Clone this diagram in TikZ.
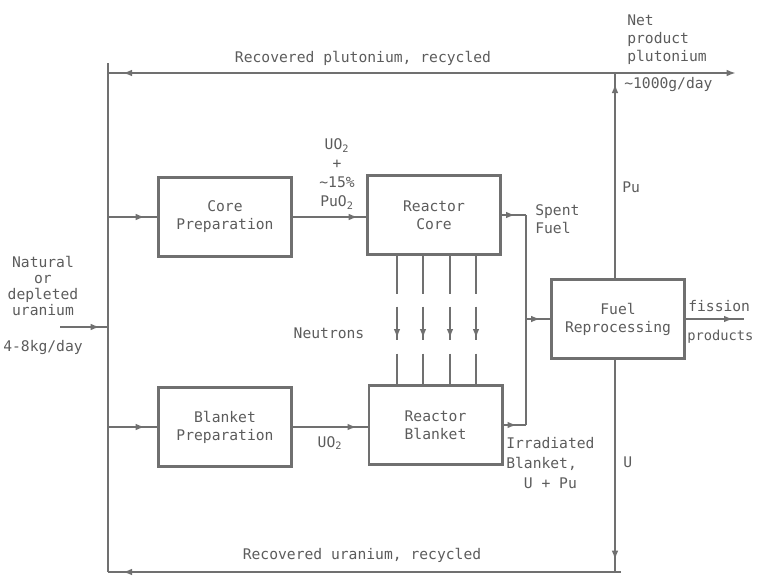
\documentclass[tikz,border=0pt]{standalone}
\usepackage{fontspec}
\setmonofont{DejaVu Sans Mono}
\usepackage{tikz}
\usetikzlibrary{arrows.meta, positioning, calc, decorations.markings}
\definecolor{scangray} {RGB}{112, 112, 112}
\definecolor{scanink}  {RGB}{ 92,  92,  92}
\tikzset{
	procbox/.style={draw=scangray, line width=2pt, minimum width=100pt, minimum height=59pt,
		align=center, text=scanink, inner sep=2pt},
	lbl/.style={text=scanink, inner sep=0pt},
	flowline/.style={draw=scangray, line width=2pt},
	endtip/.style={-{Latex[length=7pt,width=5pt]}},
	tipat/.style={postaction={decorate}, decoration={markings,
		mark=at position #1 with {\arrow{Latex[length=7pt,width=5pt]}}}}
}

\begin{document}
\begin{tikzpicture}[x=0.75pt, y=-0.75pt, font=\ttfamily\fontsize{11}{13.5}\selectfont]
	\useasboundingbox (0,0) rectangle (757,575);
	\node[procbox] (coreprep) at (225,217) {Core\\Preparation};
	\node[procbox] (core) at (434,215) {Reactor\\Core};
	\node[procbox] (blanketprep) at (225,427) {Blanket\\Preparation};
	\node[procbox] (blanket) at (435.5,425) {Reactor\\Blanket};
	\node[procbox] (reproc) at (618,319) {Fuel\\Reprocessing};
	\coordinate (lefttop) at (108,63);
	\coordinate (leftbot) at (108,572);
	\coordinate (pusplit) at (615,73);
	\coordinate (netout) at (736,73);
	\coordinate (ubot) at (615,572);
	\coordinate (botend) at (621,572);
	\coordinate (feed) at (60,327);
	\coordinate (spent) at (526,215);
	\coordinate (spentbot) at (526,425);
	\coordinate (fissout) at (744,320);
	\draw[flowline] (leftbot) -- (lefttop);
	\draw[flowline, tipat=-11pt] (pusplit) -- (pusplit -| lefttop);
	\draw[flowline, endtip] (pusplit) -- (netout);
	\draw[flowline, tipat=-8pt] (reproc.north -| pusplit) -- (pusplit);
	\draw[flowline, tipat=-9pt] (reproc.south -| ubot) -- (ubot);
	\draw[flowline, tipat=-11pt] (botend) -- (leftbot);
	\draw[flowline, tipat=-6pt] (feed) -- (feed -| leftbot);
	\draw[flowline, tipat=-9pt] (coreprep.west -| leftbot) -- (coreprep.west);
	\draw[flowline, tipat=-9pt] (blanketprep.west -| leftbot) -- (blanketprep.west);
	\draw[flowline, tipat=-6pt] (coreprep) -- (core.west |- coreprep);
	\draw[flowline, tipat=-8pt] (blanketprep) -- (blanket.west |- blanketprep);
	\draw[flowline, tipat=10pt] (core.east) -- (spent);
	\draw[flowline] (spent) -- (spentbot);
	\draw[flowline, tipat=10pt] (blanket.east) -- (spentbot);
	\draw[flowline, tipat=0.6] (spent |- reproc.west) -- (reproc.west);
	\draw[flowline, tipat=-8pt] (reproc.east) -- (reproc.east -| fissout);
	\foreach \dx in {-37,-11,16,42}{
		\draw[flowline, dash pattern=on 28.5pt off 9.75pt on 24.75pt off 10.5pt on 24.75pt, tipat=62pt]
			($(core.south)+(\dx,0)$) -- ($(core.south |- blanket.north)+(\dx,0)$);
	}
	\node[lbl] (purec) at (363,58) {Recovered plutonium, recycled};
	\node[lbl] (urec) at (362,555) {Recovered uranium, recycled};
	\node[lbl, anchor=west, align=left] (netlbl) at (627,40) {Net\\product\\plutonium};
	\node[lbl, anchor=west] (rate) at (624,85) {\textasciitilde1000g/day};
	\node[lbl, anchor=west] (pulbl) at (622,187) {Pu};
	\node[lbl, anchor=west] (ulbl) at (623,462) {U};
	\node[lbl, align=center, font=\ttfamily\fontsize{11}{14.25}\selectfont] (mix) at (337,174)
		{UO\textsubscript{2}\\+\\\textasciitilde15\%\\PuO\textsubscript{2}};
	\node[lbl, anchor=west, align=left] (spentlbl) at (535,219) {Spent\\Fuel};
	\node[lbl] (neutlbl) at (329,333) {Neutrons};
	\node[lbl, anchor=west, align=left, font=\ttfamily\fontsize{11}{15}\selectfont] (irrlbl) at (506,463)
		{Irradiated\\Blanket,\\\hphantom{Ir}U + Pu};
	\node[lbl, anchor=west] (fislbl) at (688,306) {fission};
	\node[lbl, anchor=west, font=\ttfamily\fontsize{10.3}{12}\selectfont] (prodlbl) at (687,337) {products};
	\node[lbl] (uo2lbl) at (330,443) {UO\textsubscript{2}};
	\node[lbl, align=center, font=\ttfamily\fontsize{11}{12}\selectfont] (natlbl) at (43,286)
		{Natural\\or\\depleted\\uranium};
	\node[lbl] (feedrate) at (43,347) {4-8kg/day};
\end{tikzpicture}
\end{document}
